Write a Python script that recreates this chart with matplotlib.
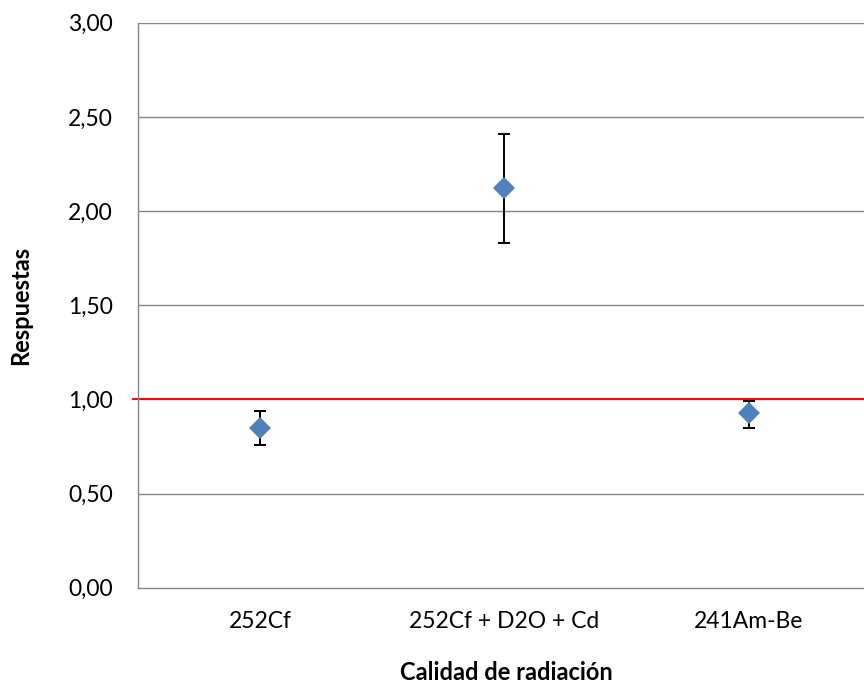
import numpy as np
import matplotlib.pyplot as plt

# Respuesta medida por calidad de radiación, con su incertidumbre
calidades = ['252Cf', '252Cf + D2O + Cd', '241Am-Be']
respuesta = [0.85, 2.12, 0.925]
err_sup = [0.94, 2.41, 0.99]
err_inf = [0.76, 1.83, 0.85]

plt.rcParams['font.family'] = ['Lato', 'DejaVu Sans']

resp = np.array(respuesta)
yerr = [resp - np.array(err_inf), np.array(err_sup) - resp]

fig = plt.figure(figsize=(8.64, 6.86), dpi=100)
ax = fig.add_axes([0.1594, 0.1433, 0.8487, 0.8236])

gris = '#868686'
for y in np.arange(0.5, 3.01, 0.5):
    ax.axhline(y, color=gris, lw=1.0, zorder=1)
# referencia en 1,00
ax.axhline(1.0, xmin=-0.007, xmax=1, color='#FF0000', lw=1.4, zorder=2, clip_on=False)

x = np.arange(len(calidades))
ax.errorbar(x, resp, yerr=yerr, fmt='none', ecolor='black', elinewidth=1.4,
            capsize=4, capthick=1.4, zorder=3)
ax.plot(x, resp, 'D', color='#4F81BD', markersize=11, markeredgewidth=0, zorder=4)

ax.set_xlim(-0.5, 2.5)
ax.set_ylim(0, 3)
ax.set_yticks(np.arange(0, 3.01, 0.5))
ax.set_yticklabels([f'{v:.2f}'.replace('.', ',') for v in np.arange(0, 3.01, 0.5)])
ax.set_xticks(x)
ax.set_xticklabels(calidades)
ax.tick_params(axis='both', length=0, labelsize=16.5, colors='black')
ax.tick_params(axis='y', pad=18)
ax.tick_params(axis='x', pad=17)

for s in ['top', 'right']:
    ax.spines[s].set_visible(False)
for s in ['left', 'bottom']:
    ax.spines[s].set_color(gris)
    ax.spines[s].set_linewidth(1.0)

fig.text(506 / 864, 1 - 672 / 686, 'Calidad de radiación', fontsize=17,
         fontweight='bold', ha='center', va='center')
fig.text(21 / 864, 1 - 305 / 686, 'Respuestas', fontsize=17, fontweight='bold',
         rotation=90, ha='center', va='center')

fig.savefig('out.png', dpi=100)
